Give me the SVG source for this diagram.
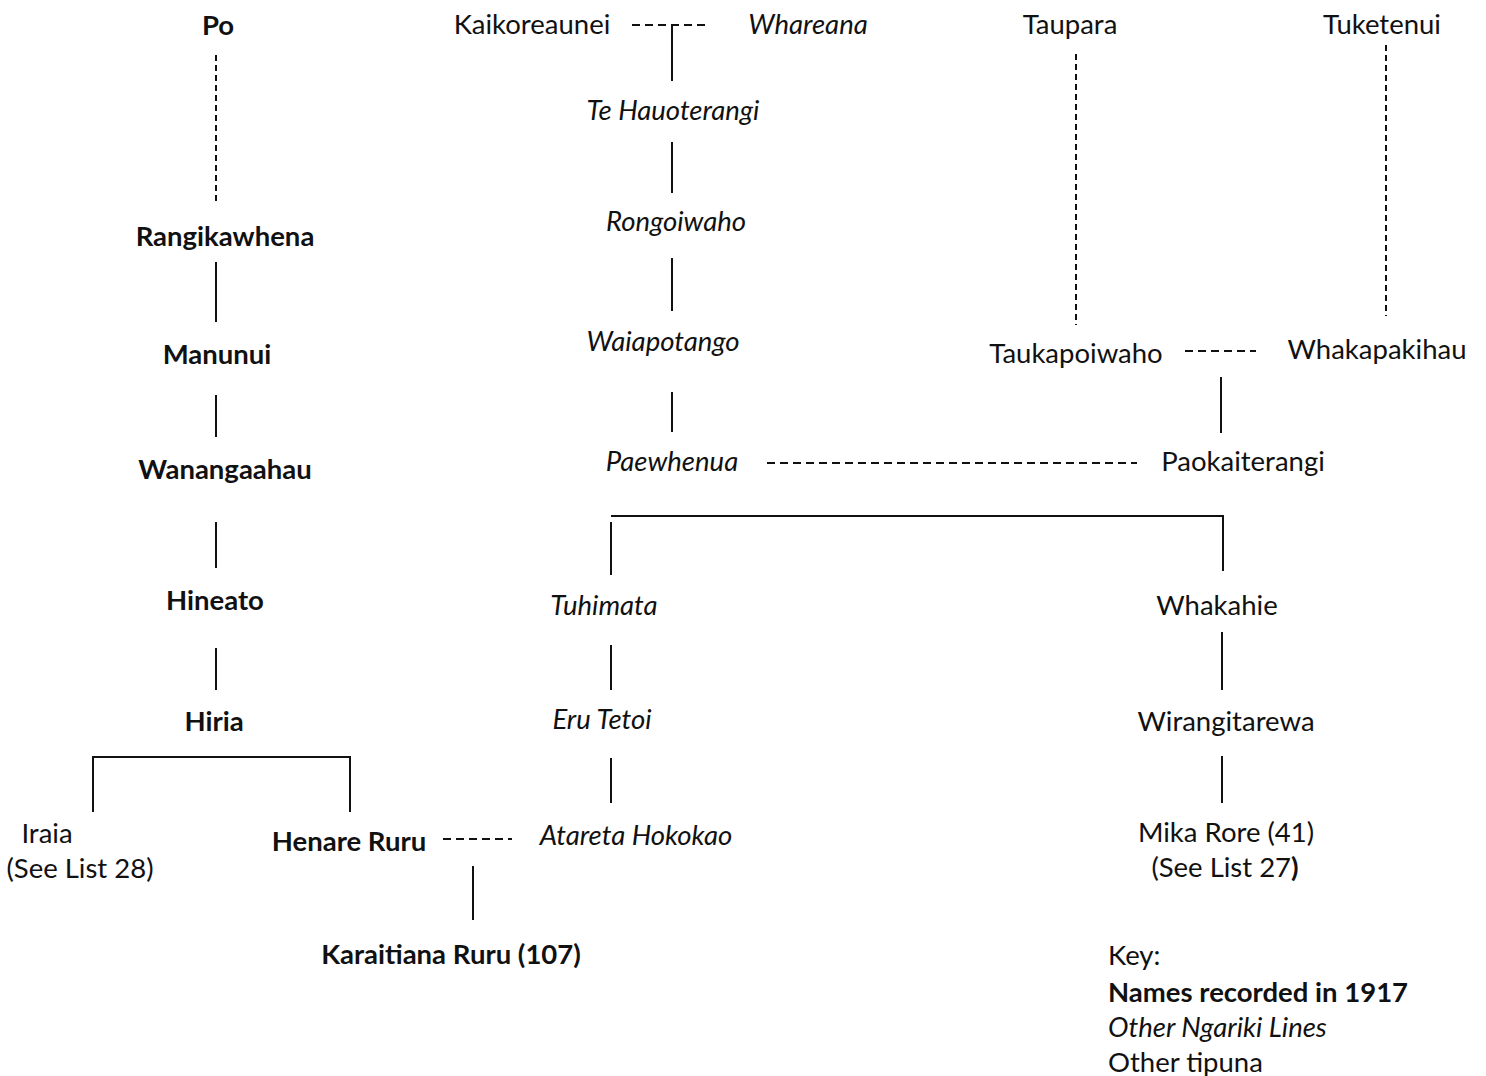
<svg xmlns="http://www.w3.org/2000/svg" width="1486" height="1076" viewBox="0 0 1486 1076">
  <style>
    text { font-family: Lato, "Open Sans", "Liberation Sans", sans-serif; font-size: 27.5px; fill: #111; text-anchor: middle; }
    .b { font-weight: bold; }
    .i { font-style: italic; }
    .key { text-anchor: start; }
    .solid { stroke: #111; stroke-width: 2; fill: none; }
    .dv { stroke: #111; stroke-width: 2; stroke-dasharray: 6 4; fill: none; }
    .dh { stroke: #111; stroke-width: 2; stroke-dasharray: 8 5; fill: none; }
  </style>
  <rect width="1486" height="1076" fill="#ffffff"/>

  <!-- connectors -->
  <g id="connectors">
    <!-- Po line -->
    <line class="dv" x1="216" y1="55" x2="216" y2="202"/>
    <line class="solid" x1="216" y1="262" x2="216" y2="322"/>
    <line class="solid" x1="216" y1="395" x2="216" y2="437"/>
    <line class="solid" x1="216" y1="522" x2="216" y2="568"/>
    <line class="solid" x1="216" y1="648" x2="216" y2="690"/>
    <polyline class="solid" points="93,812 93,757 350,757 350,812"/>
    <line class="dh" x1="443" y1="839" x2="512" y2="839"/>
    <line class="solid" x1="473" y1="866" x2="473" y2="920"/>

    <!-- Kaikoreaunei / Whareana line -->
    <line class="dh" x1="632" y1="25" x2="706" y2="25"/>
    <line class="solid" x1="672" y1="25" x2="672" y2="81"/>
    <line class="solid" x1="672" y1="142" x2="672" y2="193"/>
    <line class="solid" x1="672" y1="258" x2="672" y2="311"/>
    <line class="solid" x1="672" y1="392" x2="672" y2="432"/>
    <line class="dh" x1="767" y1="463" x2="1137" y2="463"/>
    <polyline class="solid" points="611,516 1223,516 1223,571"/>
    <line class="solid" x1="611" y1="522" x2="611" y2="575"/>
    <line class="solid" x1="611" y1="645" x2="611" y2="690"/>
    <line class="solid" x1="611" y1="758" x2="611" y2="803"/>
    <line class="solid" x1="1222" y1="632" x2="1222" y2="690"/>
    <line class="solid" x1="1222" y1="756" x2="1222" y2="803"/>

    <!-- Taupara / Tuketenui line -->
    <line class="dv" x1="1076" y1="54" x2="1076" y2="325"/>
    <line class="dv" x1="1386" y1="45" x2="1386" y2="316"/>
    <line class="dh" x1="1185" y1="351" x2="1256" y2="351"/>
    <line class="solid" x1="1221" y1="377" x2="1221" y2="433"/>
  </g>

  <!-- nodes -->
  <g id="po"><text class="b" x="218" y="35">Po</text></g>
  <g id="rangikawhena"><text class="b" x="225" y="246">Rangikawhena</text></g>
  <g id="manunui"><text class="b" x="217" y="364">Manunui</text></g>
  <g id="wanangaahau"><text class="b" x="225" y="479">Wanangaahau</text></g>
  <g id="hineato"><text class="b" x="215" y="610">Hineato</text></g>
  <g id="hiria"><text class="b" x="214" y="731">Hiria</text></g>
  <g id="iraia">
    <text x="47" y="843">Iraia</text>
    <text x="80" y="878">(See List 28)</text>
  </g>
  <g id="henare-ruru"><text class="b" x="349" y="851">Henare Ruru</text></g>
  <g id="karaitiana-ruru"><text class="b" x="451" y="964">Karaitiana Ruru (107)</text></g>

  <g id="kaikoreaunei"><text x="532" y="34">Kaikoreaunei</text></g>
  <g id="whareana"><text class="i" x="808" y="34">Whareana</text></g>
  <g id="te-hauoterangi"><text class="i" x="673" y="120">Te Hauoterangi</text></g>
  <g id="rongoiwaho"><text class="i" x="676" y="231">Rongoiwaho</text></g>
  <g id="waiapotango"><text class="i" x="663" y="351">Waiapotango</text></g>
  <g id="paewhenua"><text class="i" x="672" y="471">Paewhenua</text></g>
  <g id="tuhimata"><text class="i" x="604" y="615">Tuhimata</text></g>
  <g id="eru-tetoi"><text class="i" x="602" y="729">Eru Tetoi</text></g>
  <g id="atareta-hokokao"><text class="i" x="636" y="845">Atareta Hokokao</text></g>

  <g id="taupara"><text x="1070" y="34">Taupara</text></g>
  <g id="tuketenui"><text x="1382" y="34">Tuketenui</text></g>
  <g id="taukapoiwaho"><text x="1076" y="363">Taukapoiwaho</text></g>
  <g id="whakapakihau"><text x="1377" y="359">Whakapakihau</text></g>
  <g id="paokaiterangi"><text x="1243" y="471">Paokaiterangi</text></g>
  <g id="whakahie"><text x="1217" y="615">Whakahie</text></g>
  <g id="wirangitarewa"><text x="1226" y="731">Wirangitarewa</text></g>
  <g id="mika-rore">
    <text x="1226" y="842">Mika Rore (41)</text>
    <text x="1225" y="877">(See List 27<tspan class="b">)</tspan></text>
  </g>

  <!-- legend -->
  <g id="key">
    <text class="key" x="1108" y="965">Key:</text>
    <text class="key b" x="1108" y="1002">Names recorded in 1917</text>
    <text class="key i" x="1108" y="1037">Other Ngariki Lines</text>
    <text class="key" x="1108" y="1072">Other tipuna</text>
  </g>
</svg>
